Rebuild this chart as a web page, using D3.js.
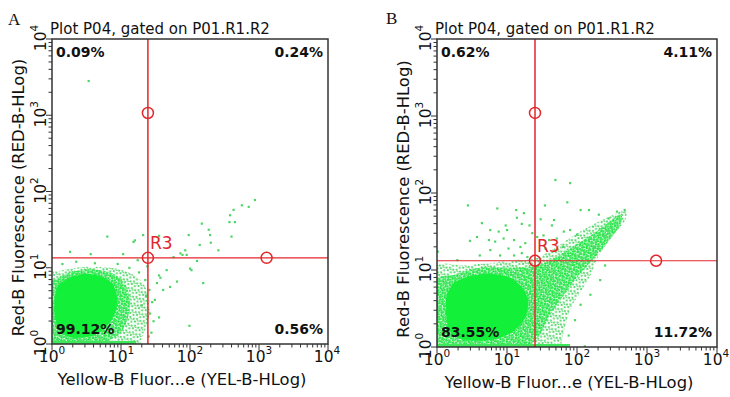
<!DOCTYPE html>
<html>
<head>
<meta charset="utf-8">
<script src="https://cdn.jsdelivr.net/npm/d3@7"></script>
<style>
  body { margin: 0; background: #fff; }
</style>
</head>
<body>
<div id="chart"></div>
<script>
// all positions below are log10 decades: 0 = 10^0 ... 4 = 10^4
const decades = [0, 1, 2, 3, 4];
const panelNames = ["A", "B"];
const plotTitle = "Plot P04, gated on P01.R1.R2";
const xTitle = "Yellow-B Fluor...e (YEL-B-HLog)";
const yTitle = "Red-B Fluorescence (RED-B-HLog)";

// quadrant percentages: upper-left, upper-right, lower-left, lower-right
const quadA = ["0.09%", "0.24%", "99.12%", "0.56%"];
const quadB = ["0.62%", "4.11%", "83.55%", "11.72%"];

// R3 quadrant gate (x, y) and its two handles
const gateA = [1.39, 1.13];
const gateB = [1.40, 1.12];
const handlesA = [[1.39, 1.13], [1.39, 3.03], [3.11, 1.13]];
const handlesB = [[1.40, 1.12], [1.40, 3.04], [3.13, 1.12]];

// dense solid core of the population
const coreA = [[0.09, 0.77], [0.26, 0.87], [0.48, 0.92], [0.70, 0.89], [0.87, 0.80], [0.94, 0.64],
  [0.93, 0.45], [0.81, 0.25], [0.62, 0.12], [0.33, 0.08], [0.12, 0.16], [0.04, 0.38], [0.04, 0.60]];
const coreB = [[0.14, 0.68], [0.26, 0.84], [0.47, 0.92], [0.76, 0.95], [1.04, 0.90], [1.21, 0.78],
  [1.30, 0.61], [1.26, 0.38], [1.07, 0.19], [0.76, 0.09], [0.40, 0.09], [0.19, 0.19], [0.13, 0.42]];

// denser speckled ring around the core
const innerA = [[-0.1, 0.84], [0.03, 0.84], [0.26, 0.94], [0.55, 0.98], [0.84, 0.94], [1.04, 0.81],
  [1.13, 0.60], [1.10, 0.34], [0.99, 0.14], [0.77, 0.01], [0.77, -0.1], [-0.1, -0.1]];
const innerB = [[-0.1, 0.81], [0.26, 0.94], [0.61, 1.03], [1.04, 1.03], [1.40, 1.05], [1.69, 1.16],
  [1.97, 1.32], [2.26, 1.49], [2.54, 1.68], [2.64, 1.73], [2.61, 1.57], [2.40, 1.32], [2.19, 1.10],
  [1.97, 0.87], [1.76, 0.61], [1.59, 0.38], [1.47, 0.16], [1.33, 0.01], [1.33, -0.1], [-0.1, -0.1]];

// sparse speckled outer edge
const haloA = [[-0.1, 0.94], [0.04, 0.95], [0.45, 1.01], [0.84, 1.00], [1.08, 0.95], [1.28, 0.84],
  [1.39, 0.67], [1.42, 0.45], [1.37, 0.23], [1.28, 0.03], [1.28, -0.1], [-0.1, -0.1]];
const haloB = [[-0.1, 1.00], [0.40, 1.06], [0.78, 1.09], [1.11, 1.13], [1.40, 1.15], [1.64, 1.26],
  [1.92, 1.43], [2.21, 1.58], [2.50, 1.71], [2.69, 1.78], [2.69, 1.65], [2.50, 1.43], [2.30, 1.17],
  [2.21, 0.96], [2.07, 0.74], [1.92, 0.52], [1.83, 0.26], [1.78, 0.05], [1.78, -0.1], [-0.1, -0.1]];

// events piled on the lower axis (x from, x to)
const bandA = [0, 1.22];
const bandB = [0, 1.9];

// single scattered events
const dotsA = [[0.26, 1.21], [0.56, 1.18], [0.80, 1.41], [1.03, 1.18], [1.18, 1.34], [1.20, 1.36],
  [1.32, 1.43], [1.55, 1.42], [1.55, 0.90], [1.57, 0.87], [1.66, 0.97], [1.71, 0.75], [1.76, 1.14],
  [1.81, 0.82], [1.86, 1.19], [1.89, 1.17], [1.93, 1.23], [1.95, 1.17], [1.98, 1.43], [2.00, 0.99],
  [2.02, 0.97], [2.10, 1.09], [2.14, 1.30], [2.17, 1.58], [2.19, 0.80], [2.27, 1.50], [2.29, 1.43],
  [2.30, 1.33], [2.41, 1.23], [2.58, 1.69], [2.57, 1.60], [2.65, 1.60], [2.63, 1.76], [2.60, 1.41],
  [2.75, 1.82], [2.85, 1.80], [2.94, 1.89], [1.99, 0.24], [1.55, 0.35], [1.42, 0.40], [1.40, 0.10],
  [1.61, 0.71], [0.53, 3.45], [1.35, 0.84], [1.36, 0.63], [1.30, 0.51], [1.41, 0.71], [1.26, 0.94],
  [1.49, 0.58], [1.52, 0.80], [0.15, 1.05], [0.35, 1.08], [0.62, 1.06], [0.95, 1.05], [1.12, 1.00],
  [1.45, 0.55], [1.47, 0.30], [1.44, 0.15], [1.38, 1.02], [1.24, 1.10]];
const dotsB = [[1.69, 2.17], [1.90, 2.13], [0.44, 1.84], [0.86, 1.80], [1.13, 1.78], [1.24, 1.74],
  [1.54, 1.84], [1.86, 1.88], [2.05, 1.78], [2.17, 1.78], [2.57, 1.76], [2.68, 1.78], [2.31, 1.72],
  [2.45, 1.67], [0.64, 1.61], [0.76, 1.52], [0.88, 1.50], [1.00, 1.52], [0.98, 1.58], [1.14, 1.68],
  [1.21, 1.60], [1.32, 1.58], [1.48, 1.66], [1.67, 1.65], [1.64, 1.58], [1.81, 1.50], [1.90, 1.52],
  [0.47, 1.38], [0.57, 1.43], [0.74, 1.39], [0.83, 1.37], [0.95, 1.41], [1.10, 1.39], [1.02, 1.28],
  [1.19, 1.30], [1.26, 1.35], [1.36, 1.48], [1.43, 1.43], [1.52, 1.45], [1.60, 1.39], [1.71, 1.41],
  [0.61, 1.19], [0.76, 1.26], [0.90, 1.19], [1.10, 1.19], [1.21, 1.22], [1.29, 1.17], [0.01, 1.24],
  [0.29, 1.13], [2.33, 0.87], [2.40, 1.06], [2.19, 0.68], [2.11, 0.01], [1.97, 0.35], [2.05, 0.55],
  [2.25, 1.30], [2.38, 1.45], [2.48, 1.55], [1.55, 1.28], [1.80, 1.30], [2.00, 1.46], [1.88, 0.15]];

const panels = [
  { name: "A", left: 52, top: 39, w: 276, h: 305, quad: quadA, gate: gateA, handles: handlesA,
    core: coreA, inner: innerA, halo: haloA, band: bandA, dots: dotsA, labelX: 8, labelY: 25 },
  { name: "B", left: 437, top: 39, w: 280, h: 308, quad: quadB, gate: gateB, handles: handlesB,
    core: coreB, inner: innerB, halo: haloB, band: bandB, dots: dotsB, labelX: 386, labelY: 24 }
];

const red = "#e3262c";
const coreColor = "#12f03a";
const dotColor = "#4fd465";

const svg = d3.select("#chart").append("svg")
  .attr("width", 730)
  .attr("height", 397)
  .style("font-family", "'DejaVu Sans', Verdana, sans-serif");

const defs = svg.append("defs");

// speckle textures for the scattered parts of the cloud
const sparse = defs.append("pattern").attr("id", "sparse")
  .attr("width", 7).attr("height", 7).attr("patternUnits", "userSpaceOnUse")
  .attr("patternTransform", "rotate(17)");
[[0, 0], [3.6, 1.2], [1.3, 3.9], [5.0, 4.8], [2.6, 5.9]].forEach(d => {
  sparse.append("rect").attr("x", d[0]).attr("y", d[1]).attr("width", 1.9).attr("height", 1.9).attr("fill", dotColor);
});
const dense = defs.append("pattern").attr("id", "dense")
  .attr("width", 5).attr("height", 5).attr("patternUnits", "userSpaceOnUse")
  .attr("patternTransform", "rotate(-23)");
[[0, 0], [2.4, 0.8], [0.9, 2.6], [3.3, 3.2], [1.8, 4.3]].forEach(d => {
  dense.append("rect").attr("x", d[0]).attr("y", d[1]).attr("width", 2).attr("height", 2).attr("fill", "#22e846");
});

function powerLabel(sel, exp) {
  sel.append("tspan").text("10");
  sel.append("tspan").attr("font-size", "10.5px").attr("dy", "-8").text(exp);
}

panels.forEach(p => {
  const g = svg.append("g").attr("transform", "translate(" + p.left + "," + p.top + ")");

  const x = d3.scaleLog().domain([1, 1e4]).range([0, p.w]);
  const y = d3.scaleLog().domain([1, 1e4]).range([p.h, 0]);
  const px = d => x(Math.pow(10, d[0]));
  const py = d => y(Math.pow(10, d[1]));

  defs.append("clipPath").attr("id", "clip" + p.name)
    .append("rect").attr("width", p.w).attr("height", p.h);

  const plot = g.append("g").attr("clip-path", "url(#clip" + p.name + ")");

  const shape = d3.line()
    .x(d => x(Math.pow(10, Math.max(d[0], -0.2))))
    .y(d => y(Math.pow(10, Math.max(d[1], -0.2))))
    .curve(d3.curveCardinalClosed.tension(0.2));

  plot.append("path").datum(p.halo).attr("d", shape).attr("fill", "url(#sparse)");
  plot.append("path").datum(p.inner).attr("d", shape).attr("fill", "url(#dense)");
  plot.append("path").datum(p.core).attr("d", shape).attr("fill", coreColor);

  plot.append("line")
    .attr("x1", x(Math.pow(10, p.band[0]))).attr("x2", x(Math.pow(10, p.band[1])))
    .attr("y1", y(1) - 1.5).attr("y2", y(1) - 1.5)
    .attr("stroke", "#3ee85a").attr("stroke-width", 3);

  plot.selectAll("rect.dot")
    .data(p.dots)
    .join("rect")
    .attr("class", "dot")
    .attr("x", d => px(d) - 1)
    .attr("y", d => py(d) - 1)
    .attr("width", 2.2)
    .attr("height", 2.2)
    .attr("fill", dotColor);

  // quadrant gate
  plot.append("line")
    .attr("x1", px(p.gate)).attr("x2", px(p.gate))
    .attr("y1", 0).attr("y2", p.h)
    .attr("stroke", red).attr("stroke-width", 1.5);
  plot.append("line")
    .attr("x1", 0).attr("x2", p.w)
    .attr("y1", py(p.gate)).attr("y2", py(p.gate))
    .attr("stroke", red).attr("stroke-width", 1.2);

  g.selectAll("circle.handle")
    .data(p.handles)
    .join("circle")
    .attr("class", "handle")
    .attr("cx", px).attr("cy", py).attr("r", 5.5)
    .attr("fill", "none").attr("stroke", red).attr("stroke-width", 1.5);

  g.append("text")
    .attr("x", px(p.gate) + 2)
    .attr("y", py(p.gate) - 9)
    .attr("fill", red)
    .attr("font-size", "17px")
    .text("R3");

  // quadrant percentages
  const q = g.append("g").attr("font-weight", "bold").attr("font-size", "14px").attr("fill", "#111");
  q.append("text").attr("x", 4).attr("y", 18).text(p.quad[0]);
  q.append("text").attr("x", p.w - 5).attr("y", 18).attr("text-anchor", "end").text(p.quad[1]);
  q.append("text").attr("x", 4).attr("y", p.h - 10).text(p.quad[2]);
  q.append("text").attr("x", p.w - 5).attr("y", p.h - 10).attr("text-anchor", "end").text(p.quad[3]);

  // frame
  g.append("rect")
    .attr("width", p.w).attr("height", p.h)
    .attr("fill", "none").attr("stroke", "#333").attr("stroke-width", 1.5);

  // axes: minor ticks from the log scale, major ticks at each decade
  const isMajor = v => Math.abs(Math.log10(v) - Math.round(Math.log10(v))) < 1e-9;

  g.append("g").selectAll("line")
    .data(x.ticks())
    .join("line")
    .attr("x1", d => x(d)).attr("x2", d => x(d))
    .attr("y1", p.h).attr("y2", d => p.h + (isMajor(d) ? 6 : 3.5))
    .attr("stroke", "#333").attr("stroke-width", 1);

  g.append("g").selectAll("line")
    .data(y.ticks())
    .join("line")
    .attr("y1", d => y(d)).attr("y2", d => y(d))
    .attr("x1", 0).attr("x2", d => isMajor(d) ? -6 : -3.5)
    .attr("stroke", "#333").attr("stroke-width", 1);

  g.append("g").selectAll("text")
    .data(decades)
    .join("text")
    .attr("x", d => x(Math.pow(10, d)) - (d === 4 ? 1 : 0))
    .attr("y", p.h + 18)
    .attr("text-anchor", "middle")
    .attr("font-size", "15.5px")
    .attr("fill", "#111")
    .each(function (d) { powerLabel(d3.select(this), d); });

  g.append("g").selectAll("text")
    .data(decades)
    .join("text")
    .attr("transform", d => "translate(-6," + (y(Math.pow(10, d)) - 1) + ") rotate(-90)")
    .attr("text-anchor", "middle")
    .attr("font-size", "15.5px")
    .attr("fill", "#111")
    .each(function (d) { powerLabel(d3.select(this), d); });

  // titles
  g.append("text")
    .attr("x", -2).attr("y", -5)
    .attr("font-size", "15px")
    .attr("fill", "#111")
    .text(plotTitle);

  g.append("text")
    .attr("x", p.w / 2 - 8).attr("y", p.h + 41)
    .attr("text-anchor", "middle")
    .attr("font-size", "16.4px")
    .attr("fill", "#111")
    .text(xTitle);

  g.append("text")
    .attr("transform", "translate(-28," + (p.h / 2 + 6) + ") rotate(-90)")
    .attr("text-anchor", "middle")
    .attr("font-size", "16.4px")
    .attr("fill", "#111")
    .text(yTitle);

  svg.append("text")
    .attr("x", p.labelX).attr("y", p.labelY)
    .attr("font-family", "'Liberation Serif', 'Times New Roman', serif")
    .attr("font-size", "17px")
    .attr("fill", "#111")
    .text(p.name);
});
</script>
</body>
</html>
